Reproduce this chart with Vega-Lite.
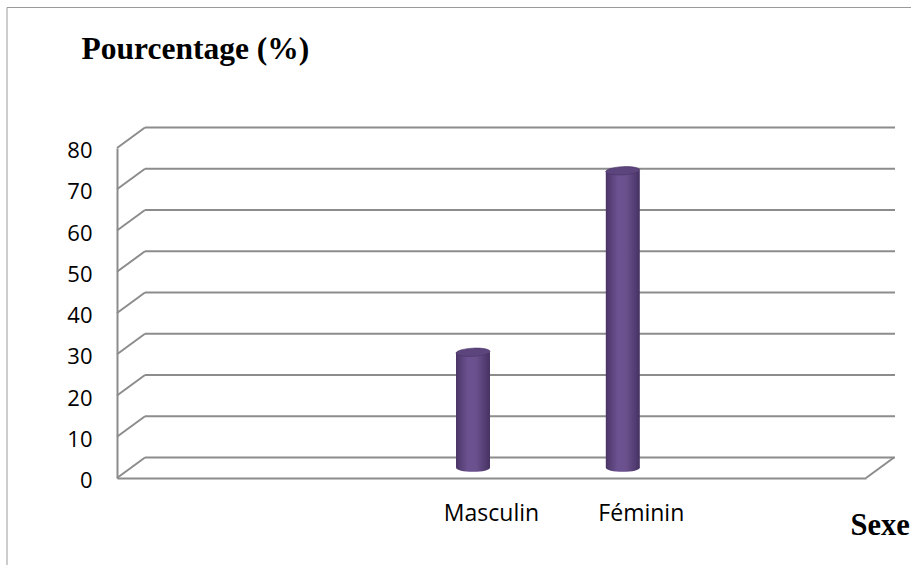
{
  "$schema": "https://vega.github.io/schema/vega-lite/v6.json",
  "width": 749,
  "height": 330,
  "autosize": {"type": "none"},
  "padding": {"left": 117, "right": 45, "top": 148, "bottom": 87},
  "background": "white",
  "config": {"view": {"stroke": null}},
  "datasets": {
    "repartition": [
      {"sexe": "Masculin", "pct": 28},
      {"sexe": "Féminin", "pct": 72}
    ],
    "graduations": [
      {"pct": 0}, {"pct": 10}, {"pct": 20}, {"pct": 30}, {"pct": 40},
      {"pct": 50}, {"pct": 60}, {"pct": 70}, {"pct": 80}
    ],
    "unique": [{}]
  },
  "layer": [
    {
      "data": {"name": "unique"},
      "mark": {"type": "rule", "stroke": "#9a9a9a", "strokeWidth": 1, "xOffset": -110, "x2Offset": 60, "yOffset": -140.5, "y2Offset": -140.5},
      "encoding": {
        "x": {"datum": " ", "type": "nominal", "bandPosition": 0},
        "x2": {"datum": "   ", "bandPosition": 1},
        "y": {"datum": 80, "type": "quantitative"},
        "y2": {"datum": 80}
      }
    },
    {
      "data": {"name": "unique"},
      "mark": {"type": "rule", "stroke": "#9a9a9a", "strokeWidth": 1, "xOffset": -110, "x2Offset": -110, "yOffset": -140.5, "y2Offset": 95},
      "encoding": {
        "x": {"datum": " ", "type": "nominal", "bandPosition": 0},
        "x2": {"datum": " ", "bandPosition": 0},
        "y": {"datum": 80, "type": "quantitative"},
        "y2": {"datum": 0}
      }
    },
    {
      "data": {"name": "graduations"},
      "mark": {"type": "rule", "stroke": "#8c8c8c", "strokeWidth": 2, "xOffset": 28, "x2Offset": 29, "yOffset": -20.5, "y2Offset": -20.5},
      "encoding": {
        "x": {"datum": " ", "type": "nominal", "bandPosition": 0},
        "x2": {"datum": "   ", "bandPosition": 1},
        "y": {"field": "pct", "type": "quantitative"},
        "y2": {"field": "pct"}
      }
    },
    {
      "data": {"name": "graduations"},
      "mark": {"type": "rule", "stroke": "#8c8c8c", "strokeWidth": 2, "x2Offset": 28, "y2Offset": -20.5},
      "encoding": {
        "x": {"datum": " ", "type": "nominal", "bandPosition": 0},
        "x2": {"datum": " ", "bandPosition": 0},
        "y": {"field": "pct", "type": "quantitative"},
        "y2": {"field": "pct"}
      }
    },
    {
      "data": {"name": "unique"},
      "mark": {"type": "rule", "stroke": "#8c8c8c", "strokeWidth": 2, "x2Offset": 28, "y2Offset": -20.5},
      "encoding": {
        "x": {"datum": "   ", "type": "nominal", "bandPosition": 1},
        "x2": {"datum": "   ", "bandPosition": 1},
        "y": {"datum": 0, "type": "quantitative"},
        "y2": {"datum": 0}
      }
    },
    {
      "data": {"name": "repartition"},
      "mark": {
        "type": "point",
        "shape": "M-1,0A1,0.24 0 1,0 1,0A1,0.24 0 1,0 -1,0Z",
        "size": 1156,
        "filled": true,
        "opacity": 1,
        "strokeWidth": 0,
        "xOffset": -18.5,
        "yOffset": -10.25,
        "fill": {
          "gradient": "linear", "x1": 0, "x2": 1, "y1": 0, "y2": 0,
          "stops": [
            {"offset": 0, "color": "#4a3566"},
            {"offset": 0.35, "color": "#6c5291"},
            {"offset": 0.6, "color": "#6a508d"},
            {"offset": 1, "color": "#463262"}
          ]
        }
      },
      "encoding": {
        "x": {"field": "sexe", "type": "nominal"},
        "y": {"datum": 0, "type": "quantitative"}
      }
    },
    {
      "data": {"name": "repartition"},
      "mark": {
        "type": "bar",
        "width": 34,
        "xOffset": -18.5,
        "yOffset": -10.25,
        "y2Offset": -10.25,
        "fill": {
          "gradient": "linear", "x1": 0, "x2": 1, "y1": 0, "y2": 0,
          "stops": [
            {"offset": 0, "color": "#4a3566"},
            {"offset": 0.35, "color": "#6c5291"},
            {"offset": 0.6, "color": "#6a508d"},
            {"offset": 1, "color": "#463262"}
          ]
        }
      },
      "encoding": {
        "x": {
          "field": "sexe",
          "type": "nominal",
          "scale": {"domain": [" ", "  ", "Masculin", "Féminin", "   "], "paddingInner": 0, "paddingOuter": 0},
          "axis": {
            "title": "Sexe",
            "labelAngle": 0,
            "labelAlign": "center",
            "bandPosition": 0.5,
            "ticks": false,
            "tickSize": 0,
            "grid": false,
            "domainColor": "#8c8c8c",
            "domainWidth": 2,
            "labelFont": "Open Sans",
            "labelFontSize": 23,
            "labelColor": "#000000",
            "labelPadding": 35,
            "titleFont": "Liberation Serif",
            "titleFontSize": 30.5,
            "titleFontWeight": "bold",
            "titleColor": "#000000",
            "titleAlign": "left",
            "titleBaseline": "alphabetic",
            "titleX": 733,
            "titleY": 56
          }
        },
        "y": {
          "field": "pct",
          "type": "quantitative",
          "scale": {"domain": [0, 80], "nice": false},
          "axis": {
            "title": "Pourcentage (%)",
            "values": [0, 10, 20, 30, 40, 50, 60, 70, 80],
            "grid": false,
            "ticks": false,
            "tickSize": 0,
            "domainColor": "#8c8c8c",
            "domainWidth": 2,
            "labelFont": "Open Sans",
            "labelFontSize": 22,
            "labelColor": "#000000",
            "labelPadding": 25,
            "labelOffset": 2.5,
            "labelFlush": false,
            "labelOverlap": false,
            "titleFont": "Liberation Serif",
            "titleFontSize": 31.5,
            "titleFontWeight": "bold",
            "titleColor": "#000000",
            "titleAngle": 0,
            "titleAlign": "left",
            "titleBaseline": "alphabetic",
            "titleX": -36,
            "titleY": -90
          }
        }
      }
    },
    {
      "data": {"name": "repartition"},
      "mark": {
        "type": "point",
        "shape": "M-1,0A1,0.24 0 1,0 1,0A1,0.24 0 1,0 -1,0Z",
        "size": 1156,
        "filled": true,
        "opacity": 1,
        "fill": "#5c447d",
        "stroke": "#4a3566",
        "strokeWidth": 0.6,
        "angle": 357,
        "xOffset": -18.5,
        "yOffset": -10.25
      },
      "encoding": {
        "x": {"field": "sexe", "type": "nominal"},
        "y": {"field": "pct", "type": "quantitative"}
      }
    }
  ]
}
